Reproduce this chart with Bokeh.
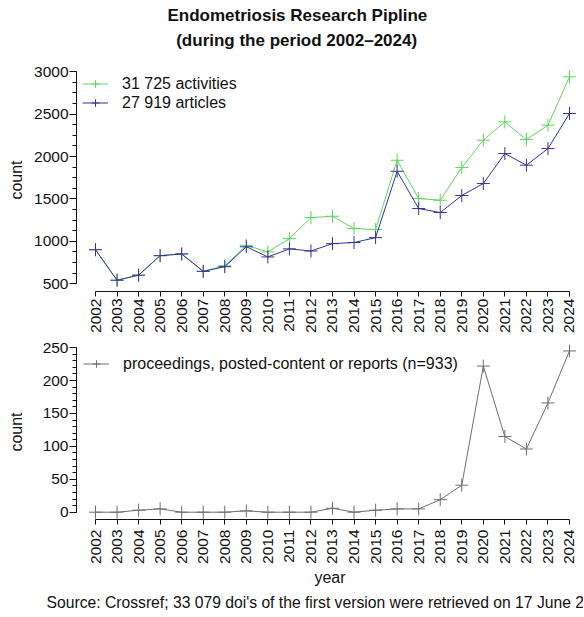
import numpy as np
from bokeh.plotting import figure
from bokeh.models import (Range1d, FixedTicker, SingleIntervalTicker, Legend,
                          LegendItem, Title, ColumnDataSource)
from bokeh.layouts import column
from bokeh.embed import file_html
from bokeh.resources import INLINE

# ---- data ----
years = list(range(2002, 2025))
activities = [900, 540, 600, 830, 850, 645, 710, 952, 874, 1031, 1279, 1295,
              1150, 1138, 1956, 1504, 1484, 1870, 2193, 2409, 2200, 2370, 2941]
articles = [900, 540, 600, 830, 850, 645, 700, 935, 815, 910, 885, 972,
            985, 1043, 1826, 1386, 1339, 1540, 1681, 2035, 1898, 2094, 2508]
other = [0, 0, 3, 5, 0, 0, 0, 2, 0, 0, 0, 6, 0, 3, 5, 5, 19, 41, 222, 115,
         96, 166, 245]

label_act = "31 725 activities"
label_art = "27 919 articles"
label_other = "proceedings, posted-content or reports (n=933)"
title1 = "Endometriosis Research Pipline"
title2 = "(during the period 2002\u20132024)"
source_text = "Source: Crossref; 33 079 doi's of the first version were retrieved on 17 June 2024"

# ---- style ----
FONT = "Liberation Sans"
GREEN = "#5cd65c"
BLUE = "#33339a"
GRAY = "#6e6e6e"
INK = "#111111"
FRAME_W = 507
X_RANGE = (2001.118, 2024.65)

src = ColumnDataSource(dict(year=years, act=activities, art=articles, oth=other))


def style_axes(p, yticker, ybounds, ylabel_standoff, xlabel_standoff):
    xa = p.xaxis[0]
    xa.ticker = FixedTicker(ticks=years)
    xa.bounds = (years[0], years[-1])
    xa.major_label_orientation = np.pi / 2
    xa.major_tick_out = 5
    xa.major_tick_in = 0
    xa.minor_tick_out = 0
    xa.minor_tick_in = 0
    xa.major_label_standoff = xlabel_standoff
    xa.major_label_text_font = FONT
    xa.major_label_text_font_size = "15.5px"
    xa.major_label_text_color = INK
    xa.axis_line_color = INK
    xa.major_tick_line_color = INK
    xa.axis_label_text_font = FONT
    xa.axis_label_text_font_size = "16px"
    xa.axis_label_text_font_style = "normal"
    xa.axis_label_text_color = INK

    ya = p.yaxis[0]
    ya.ticker = yticker
    ya.bounds = ybounds
    ya.major_label_orientation = "horizontal"
    ya.major_tick_out = 7
    ya.major_tick_in = 0
    ya.minor_tick_out = 4
    ya.minor_tick_in = 0
    ya.major_label_standoff = 1
    ya.major_label_text_font = FONT
    ya.major_label_text_font_size = "15.5px"
    ya.major_label_text_color = INK
    ya.axis_line_color = INK
    ya.major_tick_line_color = INK
    ya.minor_tick_line_color = INK
    ya.axis_label = "count"
    ya.axis_label_standoff = ylabel_standoff
    ya.axis_label_text_font = FONT
    ya.axis_label_text_font_size = "16px"
    ya.axis_label_text_font_style = "normal"
    ya.axis_label_text_color = INK

    p.xgrid.grid_line_color = None
    p.ygrid.grid_line_color = None
    p.outline_line_color = None


def make_legend(items, loc):
    return Legend(items=items, location=loc, border_line_color=None,
                  background_fill_alpha=0, label_text_font=FONT,
                  label_text_font_size="16px", label_text_color=INK,
                  glyph_width=26, glyph_height=19, label_height=19,
                  spacing=0, padding=0, margin=0, label_standoff=14)


# ---- top panel ----
p1 = figure(frame_width=FRAME_W, frame_height=223, x_range=Range1d(*X_RANGE),
            y_range=Range1d(407, 3039), output_backend="svg",
            toolbar_location=None, min_border_left=69, min_border_right=0,
            min_border_top=62, min_border_bottom=43)
style_axes(p1, SingleIntervalTicker(interval=500, num_minor_ticks=4), (500, 3000), 6, 2)

g_line = p1.line("year", "act", source=src, line_color=GREEN, line_width=1)
g_pts = p1.scatter("year", "act", source=src, marker="cross", size=13,
                   line_color=GREEN, line_width=1)
b_line = p1.line("year", "art", source=src, line_color=BLUE, line_width=1)
b_pts = p1.scatter("year", "art", source=src, marker="cross", size=13,
                   line_color=BLUE, line_width=1)

p1.add_layout(make_legend([LegendItem(label=label_act, renderers=[g_line, g_pts]),
                           LegendItem(label=label_art, renderers=[b_line, b_pts])],
                          (7, 179)))

# titles: first added sits nearest the frame
p1.add_layout(Title(text=" ", text_font=FONT, text_font_size="10px",
                    standoff=5), "above")
p1.add_layout(Title(text=title2, align="left", offset=99.7, text_font=FONT,
                    text_font_size="17px", text_font_style="bold",
                    text_color=INK, standoff=2), "above")
p1.add_layout(Title(text=title1, align="left", offset=91, text_font=FONT,
                    text_font_size="17px", text_font_style="bold",
                    text_color=INK, standoff=6), "above")

# ---- bottom panel ----
p2 = figure(frame_width=FRAME_W, frame_height=175, x_range=Range1d(*X_RANGE),
            y_range=Range1d(-11.1, 254.8), output_backend="svg",
            toolbar_location=None, min_border_left=69, min_border_right=0,
            min_border_top=9, min_border_bottom=89)
style_axes(p2, SingleIntervalTicker(interval=50, num_minor_ticks=5), (0, 250), 15, 5)
p2.xaxis[0].axis_label = "year"
p2.xaxis[0].axis_label_standoff = 2

o_line = p2.line("year", "oth", source=src, line_color=GRAY, line_width=1)
o_pts = p2.scatter("year", "oth", source=src, marker="cross", size=13,
                   line_color=GRAY, line_width=1)
p2.add_layout(make_legend([LegendItem(label=label_other, renderers=[o_line, o_pts])],
                          (7, 146)))

p2.add_layout(Title(text=source_text, align="left", offset=-30, text_font=FONT,
                    text_font_size="15.7px", text_font_style="normal",
                    text_color=INK, standoff=6), "below")

layout = column(p1, p2, spacing=0, margin=(0, 0, 0, 4))
open("out.html", "w").write(file_html(layout, INLINE))
